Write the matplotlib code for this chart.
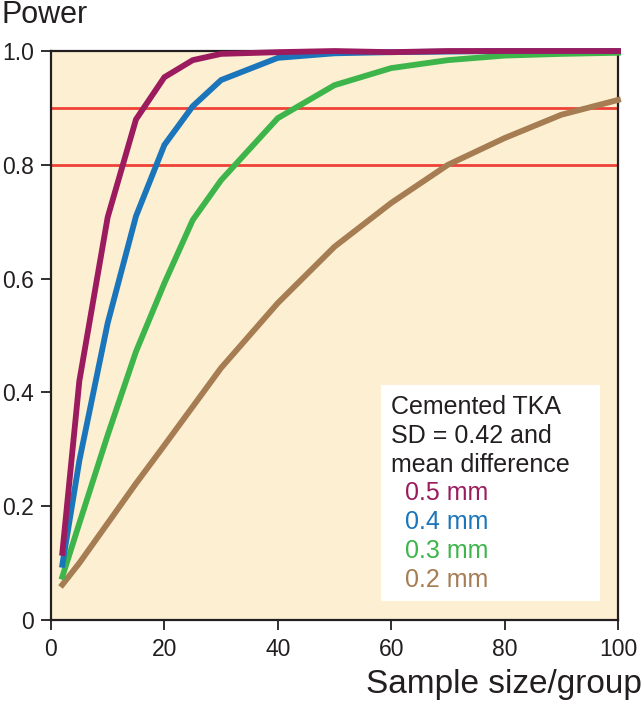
import matplotlib
matplotlib.use("Agg")
import matplotlib.pyplot as plt
from matplotlib.patches import Rectangle

plt.rcParams['font.family'] = ['Liberation Sans', 'DejaVu Sans']

# sample size per group
sample_size = [2, 5, 10, 15, 20, 25, 30, 40, 50, 60, 70, 80, 90, 100]

# power for each mean difference
power_05 = [0.118, 0.42, 0.708, 0.88, 0.954, 0.984, 0.995, 0.998, 1.0, 0.998, 1.0, 1.0, 1.0, 1.0]
power_04 = [0.097, 0.28, 0.522, 0.71, 0.835, 0.903, 0.949, 0.988, 0.996, 0.998, 0.999, 1.0, 1.0, 1.0]
power_03 = [0.076, 0.17, 0.325, 0.472, 0.592, 0.703, 0.773, 0.882, 0.94, 0.97, 0.984, 0.992, 0.995, 0.997]
power_02 = [0.062, 0.10, 0.17, 0.24, 0.307, 0.375, 0.443, 0.557, 0.656, 0.733, 0.80, 0.847, 0.888, 0.914]

series = [
    ("0.5 mm", power_05, "#9b1b5e"),
    ("0.4 mm", power_04, "#1b75bb"),
    ("0.3 mm", power_03, "#3db54a"),
    ("0.2 mm", power_02, "#a67c52"),
]
ref_levels = [0.8, 0.9]

fig = plt.figure(figsize=(6.43, 7.01), dpi=100)
ax = fig.add_axes([0.0793, 0.1156, 0.8818, 0.8116])
ax.set_facecolor("#fdefd2")

for lvl in ref_levels:
    ax.axhline(lvl, color="#ef4136", lw=2.0, zorder=2)

for label, vals, col in series[::-1]:
    ax.plot(sample_size, vals, color=col, lw=4.2, solid_joinstyle="miter",
            zorder=3, clip_on=False)

ax.set_xlim(0, 100)
ax.set_ylim(0, 1.0)
ax.set_xticks([0, 20, 40, 60, 80, 100])
ax.set_yticks([0, 0.2, 0.4, 0.6, 0.8, 1.0])
ax.set_yticklabels(["0", "0.2", "0.4", "0.6", "0.8", "1.0"])
ax.tick_params(direction="out", length=7, width=1.3, color="#231f20",
               labelsize=16.5, labelcolor="#231f20")
ax.tick_params(axis="y", pad=5)
ax.tick_params(axis="x", pad=6)
for s in ax.spines.values():
    s.set_color("#231f20")
    s.set_linewidth(1.6)

fig.text(0.003, 0.979, "Power", fontsize=22, color="#231f20", va="center", ha="left")
fig.text(0.998, 0.023, "Sample size/group", fontsize=24, color="#231f20", va="center", ha="right")

# legend box
ax.add_patch(Rectangle((0.582, 0.033), 0.386, 0.38, transform=ax.transAxes,
                       facecolor="white", edgecolor="none", zorder=4))
head = ["Cemented TKA", "SD = 0.42 and", "mean difference"]
y0 = 0.374
step = 0.0505
for i, t in enumerate(head):
    ax.text(0.599, y0 - i * step, t, transform=ax.transAxes, fontsize=18,
            color="#231f20", va="center", ha="left", zorder=5)
for j, (label, vals, col) in enumerate(series):
    ax.text(0.625, y0 - (j + 3) * step, label, transform=ax.transAxes, fontsize=18,
            color=col, va="center", ha="left", zorder=5)

fig.savefig("out.png", dpi=100)
